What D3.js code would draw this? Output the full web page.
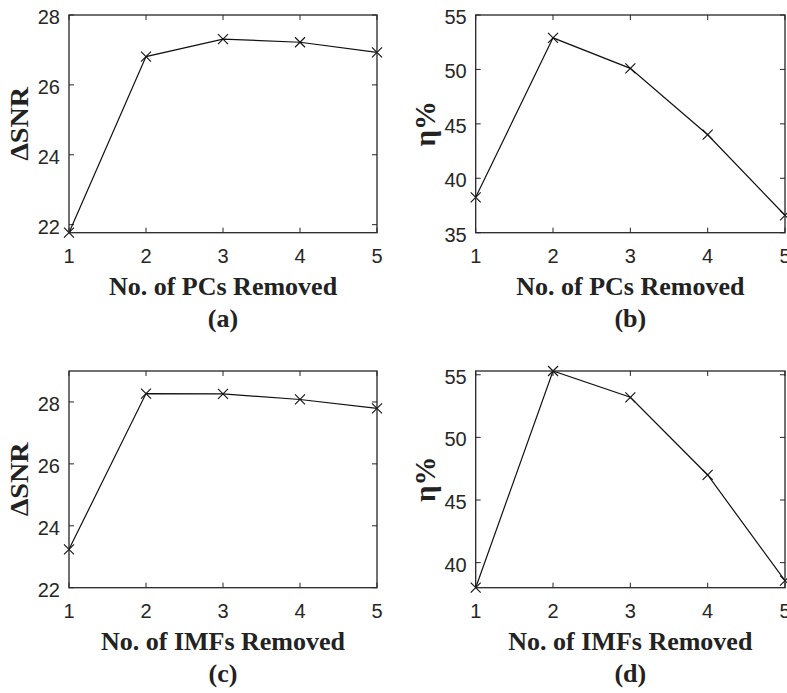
<!DOCTYPE html>
<html>
<head>
<meta charset="utf-8">
<script src="https://cdn.jsdelivr.net/npm/d3@7"></script>
<style>
  body { margin: 0; background: #fff; }
  svg { display: block; }
</style>
</head>
<body>
<div id="chart"></div>
<script>
// values
var xTicks = [1, 2, 3, 4, 5];

var snrPCs  = [21.77, 26.81, 27.31, 27.22, 26.93];
var etaPCs  = [38.25, 52.9, 50.1, 44.0, 36.6];
var snrIMFs = [23.24, 28.27, 28.26, 28.08, 27.79];
var etaIMFs = [38.0, 55.3, 53.2, 47.0, 38.56];

var yTicksA = [22, 24, 26, 28];
var yTicksB = [35, 40, 45, 50, 55];
var yTicksC = [22, 24, 26, 28];
var yTicksD = [40, 45, 50, 55];

var yLimA = [21.77, 28];
var yLimB = [35, 55];
var yLimC = [22, 29];
var yLimD = [38.0, 55.3];

var svgWidth = 787;
var svgHeight = 693;

var svg = d3.select("#chart")
  .append("svg")
  .attr("width", svgWidth)
  .attr("height", svgHeight);

var panels = [
  { values: snrPCs,  yTicks: yTicksA, yLim: yLimA, xlabel: "No. of PCs Removed",  ylabel: "ΔSNR", tag: "(a)",
    left: 69, right: 377, top: 15, bottom: 232.7 },
  { values: etaPCs,  yTicks: yTicksB, yLim: yLimB, xlabel: "No. of PCs Removed",  ylabel: "η%",   tag: "(b)",
    left: 475.7, right: 785, top: 15, bottom: 232.7 },
  { values: snrIMFs, yTicks: yTicksC, yLim: yLimC, xlabel: "No. of IMFs Removed", ylabel: "ΔSNR", tag: "(c)",
    left: 69, right: 377, top: 371, bottom: 587.7 },
  { values: etaIMFs, yTicks: yTicksD, yLim: yLimD, xlabel: "No. of IMFs Removed", ylabel: "η%",   tag: "(d)",
    left: 475.7, right: 785, top: 371, bottom: 587.7 }
];

var axisColor = "#262626";
var tickLen = 5;

panels.forEach(function(p) {
  var x = d3.scaleLinear().domain([1, 5]).range([p.left, p.right]);
  var y = d3.scaleLinear().domain(p.yLim).range([p.bottom, p.top]);
  var g = svg.append("g");

  // inward ticks on all four sides (matlab box on)
  var ticks = g.append("g").attr("stroke", axisColor).attr("stroke-width", 1);
  xTicks.forEach(function(t) {
    ticks.append("line").attr("x1", x(t)).attr("x2", x(t))
      .attr("y1", p.bottom).attr("y2", p.bottom - tickLen);
    ticks.append("line").attr("x1", x(t)).attr("x2", x(t))
      .attr("y1", p.top).attr("y2", p.top + tickLen);
  });
  p.yTicks.forEach(function(t) {
    ticks.append("line").attr("x1", p.left).attr("x2", p.left + tickLen)
      .attr("y1", y(t)).attr("y2", y(t));
    ticks.append("line").attr("x1", p.right).attr("x2", p.right - tickLen)
      .attr("y1", y(t)).attr("y2", y(t));
  });

  // tick labels
  g.selectAll(".xt")
    .data(xTicks)
    .enter().append("text")
    .attr("x", function(t) { return x(t); })
    .attr("y", p.bottom + 30)
    .attr("text-anchor", "middle")
    .attr("font-family", "Liberation Sans, Arial, sans-serif")
    .attr("font-size", 20)
    .attr("fill", axisColor)
    .text(function(t) { return t; });

  g.selectAll(".yt")
    .data(p.yTicks)
    .enter().append("text")
    .attr("x", p.left - 9)
    .attr("y", function(t) { return y(t) + 9; })
    .attr("text-anchor", "end")
    .attr("font-family", "Liberation Sans, Arial, sans-serif")
    .attr("font-size", 20)
    .attr("fill", axisColor)
    .text(function(t) { return t; });

  // the line
  var line = d3.line()
    .x(function(d, i) { return x(xTicks[i]); })
    .y(function(d) { return y(d); });

  g.append("path")
    .datum(p.values)
    .attr("fill", "none")
    .attr("stroke", "#111")
    .attr("stroke-width", 1.2)
    .attr("d", line);

  // x markers
  g.selectAll(".mk")
    .data(p.values)
    .enter().append("path")
    .attr("transform", function(d, i) { return "translate(" + x(xTicks[i]) + "," + y(d) + ")"; })
    .attr("d", "M-5,-5L5,5M-5,5L5,-5")
    .attr("stroke", "#111")
    .attr("stroke-width", 1.1)
    .attr("fill", "none");

  // box
  g.append("rect")
    .attr("x", p.left).attr("y", p.top)
    .attr("width", p.right - p.left).attr("height", p.bottom - p.top)
    .attr("fill", "none")
    .attr("stroke", axisColor)
    .attr("stroke-width", 1.3);

  var cx = (p.left + p.right) / 2;

  g.append("text")
    .attr("x", cx)
    .attr("y", p.bottom + 62)
    .attr("text-anchor", "middle")
    .attr("font-family", "Liberation Serif, Times New Roman, serif")
    .attr("font-weight", "bold")
    .attr("font-size", 26)
    .attr("fill", "#222")
    .text(p.xlabel);

  g.append("text")
    .attr("x", cx)
    .attr("y", p.bottom + 94)
    .attr("text-anchor", "middle")
    .attr("font-family", "Liberation Serif, Times New Roman, serif")
    .attr("font-weight", "bold")
    .attr("font-size", 26)
    .attr("fill", "#222")
    .text(p.tag);

  var yl = g.append("text")
    .attr("transform", "translate(" + (p.left - 41) + "," + ((p.top + p.bottom) / 2) + ") rotate(-90)")
    .attr("text-anchor", "middle")
    .attr("font-family", "Liberation Serif, Times New Roman, serif")
    .attr("font-weight", "bold")
    .attr("fill", "#222")
    .text(p.ylabel);
  if (p.ylabel === "ΔSNR") {
    yl.attr("font-size", 25)
      .attr("textLength", 74)
      .attr("lengthAdjust", "spacingAndGlyphs");
  } else {
    yl.attr("font-size", 29);
  }
});
</script>
</body>
</html>
